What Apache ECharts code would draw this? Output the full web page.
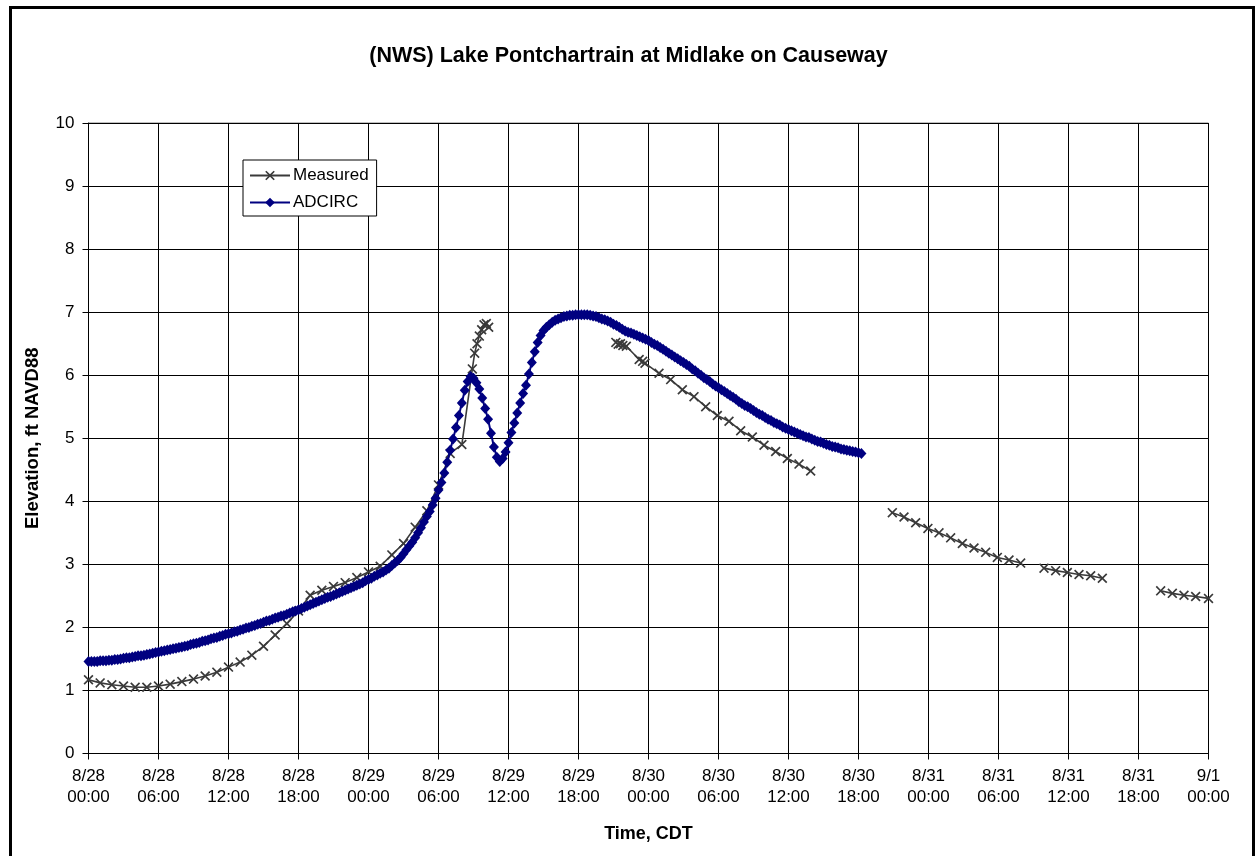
<!DOCTYPE html>
<html>
<head>
<meta charset="utf-8">
<script src="https://cdn.jsdelivr.net/npm/echarts@6/dist/echarts.min.js"></script>
<style>
html,body{margin:0;padding:0;background:#fff;}
#chart{width:1257px;height:856px;}
</style>
</head>
<body>
<div id="chart"></div>
<script>
// ---- DATA ----
const titleText = '(NWS) Lake Pontchartrain at Midlake on Causeway';
const xTickLabels = ['8/28\n00:00','8/28\n06:00','8/28\n12:00','8/28\n18:00',
  '8/29\n00:00','8/29\n06:00','8/29\n12:00','8/29\n18:00',
  '8/30\n00:00','8/30\n06:00','8/30\n12:00','8/30\n18:00',
  '8/31\n00:00','8/31\n06:00','8/31\n12:00','8/31\n18:00','9/1\n00:00'];
// hours since 8/28 00:00 CDT (null = gap in record)
const measuredHours = [0,1,2,3,4,5,6,7,8,9,10,11,12,13,14,15,16,17,18,19,20,21,22,23,24,25,26,27,28,29,30,31,32,
  32.9,33.1,33.3,33.5,33.7,33.9,34.1,34.3, null,
  45.2,45.4,45.6,45.8,46.1,47.2,47.5,47.7,48.9,49.9,50.9,51.9,52.9,53.9,54.9,55.9,56.9,57.9,58.9,59.9,60.9,61.9, null,
  68.9,69.9,70.9,71.95,72.9,73.9,74.9,75.9,76.9,77.9,78.9,79.9, null,
  81.9,82.9,83.9,84.9,85.9,86.9, null,
  91.9,92.9,93.9,94.9,96];
const measuredValues = [1.17,1.12,1.09,1.07,1.05,1.05,1.07,1.10,1.14,1.18,1.23,1.29,1.37,1.45,1.56,1.70,1.88,2.06,2.26,2.51,2.59,2.65,2.71,2.79,2.88,2.97,3.15,3.33,3.59,3.85,4.26,4.76,4.90,
  6.10,6.35,6.50,6.62,6.72,6.80,6.82,6.76, null,
  6.52,6.49,6.50,6.47,6.46,6.25,6.22,6.19,6.03,5.93,5.77,5.66,5.50,5.36,5.27,5.12,5.02,4.89,4.79,4.68,4.59,4.48, null,
  3.82,3.75,3.66,3.57,3.50,3.42,3.33,3.26,3.19,3.11,3.07,3.02, null,
  2.94,2.90,2.87,2.84,2.82,2.78, null,
  2.58,2.54,2.51,2.49,2.46];
// ADCIRC model output, every 15 minutes starting 8/28 00:00
const adcircStartHour = 0;
const adcircStepHours = 0.25;
const adcircValues = [
  1.46,1.46,1.46,1.46, 1.47,1.47,1.47,1.48, 1.48,1.49,1.49,1.50, 1.51,1.52,1.52,1.53,
  1.54,1.55,1.55,1.56, 1.57,1.58,1.59,1.60, 1.61,1.62,1.63,1.64, 1.65,1.66,1.67,1.68,
  1.69,1.70,1.71,1.73, 1.74,1.75,1.76,1.78, 1.79,1.80,1.82,1.83, 1.84,1.86,1.87,1.89,
  1.90,1.91,1.93,1.94, 1.96,1.97,1.99,2.00, 2.02,2.03,2.05,2.06, 2.08,2.10,2.11,2.13,
  2.15,2.16,2.18,2.19, 2.21,2.23,2.25,2.26, 2.28,2.30,2.32,2.34, 2.36,2.38,2.40,2.42,
  2.44,2.46,2.48,2.49, 2.51,2.53,2.55,2.57, 2.59,2.61,2.63,2.65, 2.67,2.69,2.71,2.74,
  2.76,2.78,2.81,2.83, 2.86,2.88,2.91,2.94, 2.98,3.02,3.06,3.11, 3.17,3.23,3.29,3.35,
  3.42,3.50,3.58,3.67, 3.76,3.84,3.94,4.05, 4.18,4.30,4.45,4.62, 4.81,4.99,5.17,5.36,
  5.56,5.76,5.90,5.98, 5.95,5.88,5.78,5.64, 5.47,5.30,5.08,4.86, 4.70,4.63,4.68,4.78,
  4.93,5.09,5.24,5.40, 5.56,5.71,5.84,6.02, 6.20,6.37,6.52,6.63, 6.71,6.76,6.80,6.84,
  6.87,6.89,6.91,6.93, 6.94,6.95,6.95,6.96, 6.96,6.96,6.96,6.96, 6.95,6.94,6.93,6.91,
  6.89,6.88,6.86,6.84, 6.81,6.79,6.76,6.73, 6.70,6.68,6.67,6.65, 6.63,6.61,6.59,6.57,
  6.55,6.52,6.49,6.47, 6.44,6.41,6.38,6.35, 6.32,6.29,6.26,6.23, 6.20,6.17,6.14,6.10,
  6.07,6.03,6.00,5.96, 5.93,5.90,5.86,5.83, 5.80,5.77,5.74,5.71, 5.68,5.65,5.62,5.58,
  5.55,5.52,5.50,5.47, 5.44,5.41,5.38,5.36, 5.33,5.30,5.28,5.25, 5.23,5.21,5.18,5.16,
  5.14,5.12,5.10,5.08, 5.06,5.04,5.02,5.01, 4.99,4.97,4.95,4.94, 4.92,4.90,4.89,4.87,
  4.86,4.85,4.83,4.82, 4.81,4.80,4.79,4.78, 4.77,4.76
];

// ---- BUILD ----
const measuredData = measuredHours.map((h, i) => (h === null ? ['-', '-'] : [h, measuredValues[i]]));
const adcircData = adcircValues.map((v, i) => [adcircStartHour + i * adcircStepHours, v]);

const FONT = '"Liberation Sans", Arial, sans-serif';
const xMark = 'path://M0,1.2 L1.2,0 L5,3.8 L8.8,0 L10,1.2 L6.2,5 L10,8.8 L8.8,10 L5,6.2 L1.2,10 L0,8.8 L3.8,5 Z';

const chart = echarts.init(document.getElementById('chart'), null, {renderer: 'canvas'});
chart.setOption({
  animation: false,
  backgroundColor: '#fff',
  textStyle: {fontFamily: FONT},
  title: {
    text: titleText,
    left: 'center',
    top: 40,
    textStyle: {fontFamily: FONT, fontWeight: 'bold', fontSize: 21.5, color: '#000'}
  },
  graphic: [{
    type: 'rect', z: -10, silent: true,
    shape: {x: 10.5, y: 7.5, width: 1243, height: 900},
    style: {fill: 'none', stroke: '#000', lineWidth: 3}
  }],
  legend: {
    orient: 'vertical',
    left: 243, top: 160,
    padding: [7, 8, 5, 6],
    itemWidth: 40, itemHeight: 12, itemGap: 10,
    backgroundColor: '#fff',
    borderColor: '#000', borderWidth: 1, borderRadius: 0,
    textStyle: {fontFamily: FONT, fontSize: 17, color: '#000', padding: [0, 0, 0, -2]},
    data: ['Measured', 'ADCIRC']
  },
  grid: {left: 88.5, right: 48.5, top: 123, bottom: 102.5, containLabel: false,
    show: true, borderColor: '#808080', borderWidth: 1},
  xAxis: {
    type: 'value', min: 0, max: 96, interval: 6,
    name: 'Time, CDT', nameLocation: 'middle', nameGap: 72,
    nameTextStyle: {fontFamily: FONT, fontWeight: 'bold', fontSize: 18, color: '#000'},
    axisLine: {show: true, lineStyle: {color: '#000', width: 1}},
    axisTick: {show: true, length: 6, lineStyle: {color: '#000'}},
    axisLabel: {
      margin: 12, fontFamily: FONT, fontSize: 17, color: '#000', lineHeight: 21,
      formatter: v => xTickLabels[Math.round(v / 6)]
    },
    splitLine: {show: true, lineStyle: {color: '#000', width: 1}}
  },
  yAxis: {
    type: 'value', min: 0, max: 10, interval: 1,
    name: 'Elevation, ft NAVD88', nameLocation: 'middle', nameGap: 46, nameRotate: 90,
    nameTextStyle: {fontFamily: FONT, fontWeight: 'bold', fontSize: 18.5, color: '#000'},
    axisLine: {show: true, lineStyle: {color: '#000', width: 1}},
    axisTick: {show: true, length: 6, lineStyle: {color: '#000'}},
    axisLabel: {margin: 14, fontFamily: FONT, fontSize: 17, color: '#000'},
    splitLine: {show: true, lineStyle: {color: '#000', width: 1}}
  },
  series: [
    {
      name: 'Measured', type: 'line', data: measuredData,
      connectNulls: false, z: 2,
      symbol: xMark, symbolSize: 10, showAllSymbol: true,
      lineStyle: {color: '#3a3a3a', width: 1.6},
      itemStyle: {color: '#3a3a3a'}
    },
    {
      name: 'ADCIRC', type: 'line', data: adcircData, z: 3,
      symbol: 'diamond', symbolSize: [10, 11], showAllSymbol: true,
      lineStyle: {color: '#000080', width: 2},
      itemStyle: {color: '#000080'}
    }
  ]
});
</script>
</body>
</html>
